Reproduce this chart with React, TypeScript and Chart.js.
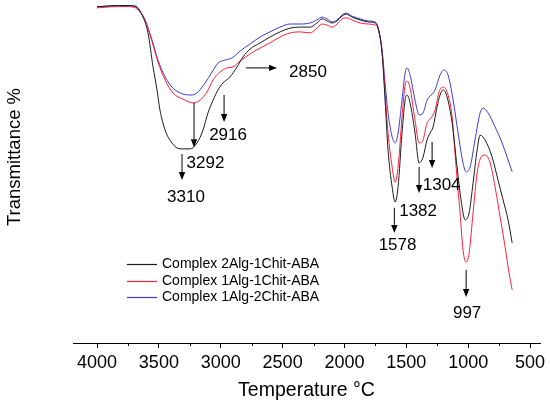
import React, { useEffect, useRef } from 'react';
import { Chart, registerables } from 'chart.js';

Chart.register(...registerables);

const FONT = "'Liberation Sans', Arial, Helvetica, sans-serif";

const seriesLabels = ['Complex 2Alg-1Chit-ABA', 'Complex 1Alg-1Chit-ABA', 'Complex 1Alg-2Chit-ABA'];
const seriesColors = ['#1c1c1c', '#ff1f3a', '#3a3ad2'];

const xTitle = 'Temperature °C';
const yTitle = 'Transmittance %';

const majorTicks = [4000, 3500, 3000, 2500, 2000, 1500, 1000, 500];
const minorTicks = [3750, 3250, 2750, 2250, 1750, 1250, 750];

// Complex 2Alg-1Chit-ABA (black)
const blackWn = [4000, 3895, 3774, 3709, 3677, 3628, 3588, 3547, 3515, 3491, 3450, 3394, 3329, 3248, 3192, 3143, 3103, 3062, 3022, 2982, 2925, 2868, 2820, 2763, 2682, 2602, 2521, 2440, 2359, 2278, 2222, 2181, 2141, 2100, 2060, 2020, 1987, 1939, 1874, 1809, 1753, 1729, 1696, 1672, 1648, 1615, 1591, 1567, 1535, 1510, 1494, 1470, 1430, 1397, 1365, 1333, 1308, 1284, 1252, 1228, 1203, 1171, 1130, 1090, 1058, 1025, 993, 961, 928, 904, 864, 807, 759, 718, 678, 645];
const blackT = [98.0, 98.3, 98.4, 98.3, 98.0, 95.0, 90.4, 80.5, 73.8, 67.9, 62.1, 58.3, 56.6, 56.6, 58.3, 62.1, 67.1, 70.8, 73.8, 75.8, 77.6, 80.5, 83.4, 85.7, 87.5, 89.2, 90.7, 91.8, 92.1, 92.1, 93.3, 94.5, 93.9, 93.3, 93.9, 95.3, 95.9, 95.0, 94.2, 93.6, 93.3, 91.8, 84.5, 70.8, 56.3, 45.5, 41.1, 45.5, 61.2, 70.8, 72.3, 70.0, 61.2, 52.5, 54.2, 59.2, 61.2, 63.0, 68.8, 72.3, 73.8, 71.7, 64.1, 51.3, 41.7, 35.9, 37.9, 46.6, 56.3, 60.6, 59.2, 54.2, 47.5, 41.7, 35.9, 29.2];

// Complex 1Alg-1Chit-ABA (red)
const redWn = [4000, 3895, 3774, 3693, 3669, 3612, 3555, 3507, 3450, 3386, 3305, 3224, 3167, 3111, 3062, 3006, 2949, 2901, 2844, 2763, 2682, 2602, 2521, 2440, 2359, 2278, 2222, 2181, 2141, 2100, 2060, 2020, 1987, 1939, 1874, 1809, 1753, 1729, 1696, 1672, 1648, 1615, 1591, 1567, 1535, 1510, 1494, 1470, 1430, 1397, 1365, 1333, 1300, 1268, 1236, 1203, 1171, 1130, 1098, 1066, 1042, 1017, 993, 961, 928, 896, 864, 823, 783, 742, 702, 670, 645];
const redT = [97.7, 98.0, 98.1, 97.8, 97.1, 94.2, 87.8, 81.9, 76.7, 72.9, 71.1, 70.0, 70.8, 73.2, 76.7, 79.0, 80.2, 80.5, 82.2, 84.3, 86.0, 87.5, 89.2, 90.4, 90.7, 90.4, 91.8, 93.0, 92.7, 92.1, 93.0, 94.5, 94.8, 94.2, 93.3, 93.0, 92.7, 91.8, 84.5, 72.9, 61.2, 51.3, 46.9, 51.3, 65.9, 75.2, 76.4, 74.3, 65.0, 58.3, 59.2, 64.1, 65.6, 67.9, 73.2, 74.6, 73.2, 65.9, 51.3, 37.9, 27.1, 23.6, 26.2, 37.9, 49.6, 54.2, 54.8, 52.5, 45.5, 36.7, 28.0, 20.4, 15.5];

// Complex 1Alg-2Chit-ABA (blue)
const blueWn = [4000, 3895, 3774, 3693, 3669, 3612, 3555, 3507, 3450, 3386, 3305, 3232, 3184, 3127, 3070, 3022, 2965, 2909, 2844, 2763, 2682, 2602, 2521, 2440, 2359, 2278, 2222, 2181, 2141, 2100, 2060, 2020, 1987, 1939, 1874, 1809, 1753, 1729, 1696, 1672, 1648, 1615, 1591, 1567, 1535, 1510, 1494, 1470, 1430, 1397, 1365, 1333, 1300, 1268, 1228, 1195, 1163, 1122, 1082, 1042, 1017, 985, 945, 904, 880, 840, 783, 726, 686, 645];
const blueT = [98.0, 98.3, 98.4, 98.1, 97.4, 94.2, 88.3, 82.5, 77.6, 74.3, 72.6, 72.3, 73.2, 75.8, 79.0, 81.6, 82.5, 83.1, 85.1, 87.2, 89.2, 90.7, 92.1, 93.0, 93.0, 93.3, 94.2, 95.0, 94.5, 93.6, 94.2, 95.6, 96.2, 95.3, 94.5, 93.9, 93.6, 92.1, 85.4, 75.8, 67.1, 60.1, 58.3, 61.2, 70.8, 78.7, 80.2, 78.1, 70.8, 66.5, 67.1, 70.8, 72.3, 73.8, 78.1, 79.6, 78.1, 70.8, 61.2, 52.5, 49.9, 51.3, 59.2, 67.1, 68.5, 67.1, 63.0, 58.3, 54.2, 49.9];

// peak annotations (arrow from (x1,y1) to (x2,y2) in data units, label at (tx,ty))
const peakLabels = ['3310', '3292', '2916', '2850', '1578', '1382', '1304', '997'];
const peakArrows = [
  { x1: 3313, y1: 55.1, x2: 3313, y2: 47.5, tx: 3281, ty: 42.6, align: 'center' },
  { x1: 3216, y1: 70.0, x2: 3216, y2: 57.1, tx: 3123, ty: 52.5, align: 'center' },
  { x1: 2973, y1: 72.3, x2: 2973, y2: 64.4, tx: 2941, ty: 60.6, align: 'center' },
  { x1: 2796, y1: 80.2, x2: 2545, y2: 80.2, tx: 2448, ty: 79.0, align: 'left' },
  { x1: 1597, y1: 39.4, x2: 1597, y2: 32.1, tx: 1571, ty: 28.6, align: 'center' },
  { x1: 1397, y1: 51.3, x2: 1397, y2: 43.7, tx: 1405, ty: 38.5, align: 'center' },
  { x1: 1292, y1: 58.6, x2: 1292, y2: 51.0, tx: 1215, ty: 46.1, align: 'center' },
  { x1: 1017, y1: 21.3, x2: 1017, y2: 13.4, tx: 1009, ty: 8.7, align: 'center' },
];

const toPoints = (xs: number[], ys: number[]) => xs.map((x, i) => ({ x, y: ys[i] }));

const overlayPlugin = {
  id: 'overlay',
  afterDraw(chart: any) {
    const { ctx, chartArea, scales } = chart;
    const xs = scales.x;
    const ys = scales.y;
    ctx.save();
    ctx.strokeStyle = '#000';
    ctx.fillStyle = '#000';
    ctx.lineWidth = 1;

    // minor ticks
    minorTicks.forEach((v) => {
      const px = Math.round(xs.getPixelForValue(v)) + 0.5;
      ctx.beginPath();
      ctx.moveTo(px, chartArea.bottom);
      ctx.lineTo(px, chartArea.bottom + 3);
      ctx.stroke();
    });

    // y-axis title
    ctx.save();
    ctx.translate(15, 157);
    ctx.rotate(-Math.PI / 2);
    ctx.font = `18.5px ${FONT}`;
    ctx.textAlign = 'center';
    ctx.textBaseline = 'middle';
    ctx.fillText(yTitle, 0, 0);
    ctx.restore();

    // legend
    ctx.font = `14px ${FONT}`;
    ctx.textAlign = 'left';
    ctx.textBaseline = 'middle';
    chart.data.datasets.forEach((ds: any, i: number) => {
      const y = Math.round(264 + i * 16.5) + 0.5;
      ctx.strokeStyle = ds.borderColor;
      ctx.lineWidth = 1.2;
      ctx.beginPath();
      ctx.moveTo(127, y);
      ctx.lineTo(157, y);
      ctx.stroke();
      ctx.fillStyle = '#000';
      ctx.fillText(ds.label, 162, y);
    });

    // peak annotations
    ctx.strokeStyle = '#000';
    ctx.fillStyle = '#000';
    ctx.lineWidth = 1;
    ctx.font = `17px ${FONT}`;
    ctx.textBaseline = 'middle';
    peakArrows.forEach((a, i) => {
      const x1 = xs.getPixelForValue(a.x1);
      const y1 = ys.getPixelForValue(a.y1);
      const x2 = xs.getPixelForValue(a.x2);
      const y2 = ys.getPixelForValue(a.y2);
      const ang = Math.atan2(y2 - y1, x2 - x1);
      const hl = 8;
      const hw = 3.2;
      const bx = x2 - Math.cos(ang) * hl;
      const by = y2 - Math.sin(ang) * hl;
      ctx.beginPath();
      ctx.moveTo(x1, y1);
      ctx.lineTo(bx, by);
      ctx.stroke();
      ctx.beginPath();
      ctx.moveTo(x2, y2);
      ctx.lineTo(bx - Math.sin(ang) * hw, by + Math.cos(ang) * hw);
      ctx.lineTo(bx + Math.sin(ang) * hw, by - Math.cos(ang) * hw);
      ctx.closePath();
      ctx.fill();
      ctx.textAlign = a.align as CanvasTextAlign;
      ctx.fillText(peakLabels[i], xs.getPixelForValue(a.tx), ys.getPixelForValue(a.ty));
    });

    ctx.restore();
  },
};

export default function App() {
  const canvasRef = useRef<HTMLCanvasElement | null>(null);

  useEffect(() => {
    document.body.style.margin = '0';
    const canvas = canvasRef.current;
    if (!canvas) return;
    const chart = new Chart(canvas, {
      type: 'line',
      data: {
        datasets: [
          { label: seriesLabels[0], data: toPoints(blackWn, blackT), borderColor: seriesColors[0] },
          { label: seriesLabels[1], data: toPoints(redWn, redT), borderColor: seriesColors[1] },
          { label: seriesLabels[2], data: toPoints(blueWn, blueT), borderColor: seriesColors[2] },
        ].map((d) => ({
          ...d,
          borderWidth: 1,
          pointRadius: 0,
          fill: false,
          cubicInterpolationMode: 'monotone' as const,
        })),
      },
      options: {
        animation: false,
        responsive: false,
        devicePixelRatio: 1,
        layout: { padding: { left: 73, right: 10, top: 0, bottom: 0 } },
        plugins: {
          legend: { display: false },
          tooltip: { enabled: false },
        },
        scales: {
          x: {
            type: 'linear',
            reverse: true,
            min: 420,
            max: 4194,
            afterBuildTicks: (scale: any) => {
              scale.ticks = majorTicks.map((v) => ({ value: v }));
            },
            ticks: {
              autoSkip: false,
              maxRotation: 0,
              padding: 4,
              color: '#000',
              font: { family: FONT, size: 18 },
              callback: (v: any) => String(v),
            },
            grid: {
              display: true,
              drawOnChartArea: false,
              drawTicks: true,
              tickLength: 5,
              color: '#000',
              tickColor: '#000',
            },
            border: { display: true, color: '#000', width: 1 },
            title: {
              display: true,
              text: xTitle,
              color: '#000',
              font: { family: FONT, size: 19.5 },
              padding: { top: 0, bottom: 8 },
            },
            afterFit: (scale: any) => {
              scale.height = 67;
              scale.paddingLeft = 0;
              scale.paddingRight = 0;
            },
          },
          y: {
            display: false,
            min: 0,
            max: 100,
          },
        },
      },
      plugins: [overlayPlugin],
    });
    return () => chart.destroy();
  }, []);

  return (
    <div style={{ width: 550, height: 410, position: 'relative', background: '#fff' }}>
      <canvas ref={canvasRef} width={550} height={410} style={{ width: 550, height: 410, display: 'block' }} />
    </div>
  );
}
